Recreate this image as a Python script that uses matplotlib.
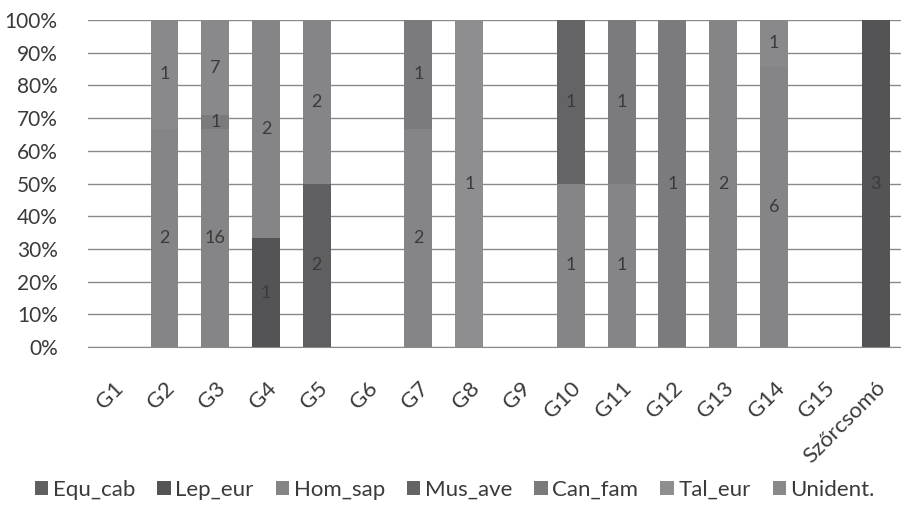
import matplotlib
matplotlib.use("Agg")
import matplotlib.pyplot as plt
import numpy as np

plt.rcParams['font.family'] = ['Lato', 'DejaVu Sans']

groups = ["G1", "G2", "G3", "G4", "G5", "G6", "G7", "G8", "G9", "G10",
          "G11", "G12", "G13", "G14", "G15", "Szőrcsomó"]
species = ["Equ_cab", "Lep_eur", "Hom_sap", "Mus_ave", "Can_fam", "Tal_eur", "Unident."]

# counts per species, one value per group
equ_cab = [0, 0, 0, 0, 2, 0, 0, 0, 0, 0, 0, 0, 0, 0, 0, 0]
lep_eur = [0, 0, 0, 1, 0, 0, 0, 0, 0, 0, 0, 0, 0, 0, 0, 3]
hom_sap = [0, 2, 16, 2, 2, 0, 2, 0, 0, 1, 1, 0, 2, 6, 0, 0]
mus_ave = [0, 0, 0, 0, 0, 0, 0, 0, 0, 1, 0, 0, 0, 0, 0, 0]
can_fam = [0, 0, 1, 0, 0, 0, 1, 0, 0, 0, 1, 1, 0, 0, 0, 0]
tal_eur = [0, 0, 0, 0, 0, 0, 0, 1, 0, 0, 0, 0, 0, 0, 0, 0]
unident = [0, 1, 7, 0, 0, 0, 0, 0, 0, 0, 0, 0, 0, 1, 0, 0]

colors = ["#5f5f61", "#545456", "#858588", "#646466", "#7b7b7e", "#8e8e91", "#89898c"]

counts = np.array([equ_cab, lep_eur, hom_sap, mus_ave, can_fam, tal_eur, unident], dtype=float)
totals = counts.sum(axis=0)
safe = np.where(totals == 0, 1, totals)
pct = counts / safe * 100

fig = plt.figure(figsize=(9.01, 5.12), dpi=100)
ax = fig.add_axes([0.098, 0.322, 0.902, 0.639])

x = np.arange(len(groups))
bottom = np.zeros(len(groups))
txt = "#3a3a3a"
for i, name in enumerate(species):
    ax.bar(x, pct[i], 0.55, bottom=bottom, color=colors[i], label=name, zorder=3)
    for j in range(len(groups)):
        if counts[i, j] > 0:
            ax.text(x[j], bottom[j] + pct[i, j] / 2, str(int(counts[i, j])),
                    ha="center", va="center", fontsize=13, color=txt, zorder=4)
    bottom += pct[i]

ax.set_xlim(-0.5, len(groups) - 0.5)
ax.set_ylim(0, 100)
ax.set_yticks(np.arange(0, 101, 10))
ax.set_yticklabels([f"{v}%" for v in range(0, 101, 10)], fontsize=15, color=txt)
ax.set_xticks(x)
ax.set_xticklabels(groups, rotation=45, ha="right", rotation_mode="anchor",
                   fontsize=16, color=txt)
ax.tick_params(axis="both", length=0)
ax.tick_params(axis="x", pad=22)
ax.tick_params(axis="y", pad=22)
ax.yaxis.grid(True, color="#8a8a8a", linewidth=1.0, zorder=0)
for s in ["top", "right", "left"]:
    ax.spines[s].set_visible(False)
ax.spines["bottom"].set_color("#8a8a8a")

fig.legend(loc="center", bbox_to_anchor=(0.505, 0.043), ncol=7, frameon=False,
           fontsize=16, handlelength=0.6, handleheight=0.6, handletextpad=0.2,
           columnspacing=1.0, labelcolor=txt)

fig.savefig("out.png", dpi=100)
